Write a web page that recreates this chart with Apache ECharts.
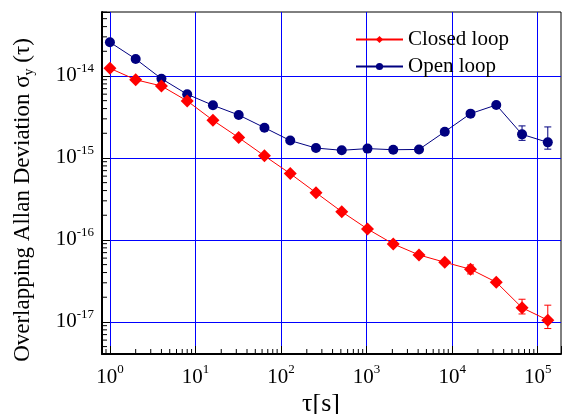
<!DOCTYPE html>
<html>
<head>
<meta charset="utf-8">
<script src="https://cdn.jsdelivr.net/npm/echarts@6/dist/echarts.min.js"></script>
<style>
  html, body { margin: 0; padding: 0; background: #fff; }
  #chart { width: 564px; height: 414px; }
</style>
</head>
<body>
<div id="chart"></div>
<script>
// averaging times tau [s]
const tau = [1, 2, 4, 8, 16, 32, 64, 128, 256, 512, 1024, 2048, 4096, 8192, 16384, 32768, 65536, 131072]

// overlapping Allan deviation
const closedLoop = [1.24e-14, 9.0e-15, 7.55e-15, 4.96e-15, 2.88e-15, 1.77e-15, 1.06e-15, 6.44e-16, 3.77e-16,
  2.21e-16, 1.36e-16, 8.94e-17, 6.56e-17, 5.34e-17, 4.39e-17, 3.05e-17, 1.49e-17, 1.05e-17]
const openLoop = [2.58e-14, 1.61e-14, 9.27e-15, 5.98e-15, 4.39e-15, 3.34e-15, 2.34e-15, 1.63e-15, 1.32e-15,
  1.24e-15, 1.30e-15, 1.26e-15, 1.27e-15, 2.09e-15, 3.47e-15, 4.43e-15, 1.94e-15, 1.55e-15]

// error bars: [tau, low, high]
const closedErr = [[16384, 3.85e-17, 4.95e-17], [65536, 1.25e-17, 1.89e-17], [131072, 8.3e-18, 1.6e-17]]
const openErr = [[16384, 3.25e-15, 3.74e-15], [65536, 1.64e-15, 2.46e-15], [131072, 1.28e-15, 2.39e-15]]

// axis ranges
const xRange = [0.808, 1.87e5]
const yRange = [4.06e-18, 6.03e-14]

// minor tick multipliers inside each decade
const minorSteps = [2, 3, 4, 5, 6, 7, 8, 9]
const xDecades = [-1, 0, 1, 2, 3, 4, 5]
const yDecades = [-18, -17, -16, -15, -14]

const FONT = "'Liberation Serif', 'Times New Roman', serif"

const minorTicks = (decades, range) => {
  const out = []
  decades.forEach(d => minorSteps.forEach(m => {
    const v = m * Math.pow(10, d)
    if (v > range[0] && v < range[1]) out.push(v)
  }))
  return out
}
const xMinor = minorTicks(xDecades, xRange)
const yMinor = minorTicks(yDecades, yRange)

const powLabel = v => {
  const e = Math.log10(v)
  const r = Math.round(e)
  if (Math.abs(e - r) > 1e-6) return ''
  return '{b|10}{s|' + r + '}'
}

const labelRich = {
  b: { fontSize: 21, fontFamily: FONT, color: '#000', lineHeight: 28 },
  s: { fontSize: 13, fontFamily: FONT, color: '#000', verticalAlign: 'top', lineHeight: 13 }
}

const errorBars = color => (params, api) => {
  const x = api.value(0)
  const lo = api.coord([x, api.value(1)])
  const hi = api.coord([x, api.value(2)])
  const w = 3.5
  const style = { stroke: color, lineWidth: 1 }
  return {
    type: 'group',
    children: [
      { type: 'line', shape: { x1: lo[0], y1: lo[1], x2: hi[0], y2: hi[1] }, style },
      { type: 'line', shape: { x1: lo[0] - w, y1: lo[1], x2: lo[0] + w, y2: lo[1] }, style },
      { type: 'line', shape: { x1: hi[0] - w, y1: hi[1], x2: hi[0] + w, y2: hi[1] }, style }
    ]
  }
}

const chart = echarts.init(document.getElementById('chart'))

const option = {
  animation: false,
  grid: {
    left: 102, right: -1, top: 12, bottom: 60,
    show: true, borderColor: '#000', borderWidth: 1, backgroundColor: 'transparent'
  },
  legend: {
    orient: 'vertical',
    left: 350,
    top: 24,
    itemWidth: 47,
    itemHeight: 9,
    itemGap: 6,
    textStyle: { fontSize: 21, fontFamily: FONT, color: '#000', lineHeight: 21 },
    data: ['Closed loop', 'Open loop']
  },
  xAxis: {
    type: 'log',
    logBase: 10,
    min: xRange[0],
    max: xRange[1],
    axisLine: { lineStyle: { color: '#000', width: 2 } },
    axisTick: { inside: true, length: 8, lineStyle: { color: '#000' } },
    axisLabel: { formatter: powLabel, rich: labelRich, margin: 9 },
    splitLine: { show: true, showMinLine: false, showMaxLine: false, lineStyle: { color: '#0000ff', width: 1 } }
  },
  yAxis: {
    type: 'log',
    logBase: 10,
    min: yRange[0],
    max: yRange[1],
    axisLine: { lineStyle: { color: '#000', width: 2 } },
    axisTick: { inside: true, length: 8, lineStyle: { color: '#000' } },
    axisLabel: { formatter: powLabel, rich: labelRich, margin: 8 },
    splitLine: { show: true, showMinLine: false, showMaxLine: false, lineStyle: { color: '#0000ff', width: 1 } }
  },
  graphic: [
    {
      type: 'text',
      x: 23, y: 200,
      rotation: Math.PI / 2,
      style: {
        text: '{a|Overlapping Allan Deviation σ}{sub|y}{a| (τ)}',
        align: 'center',
        verticalAlign: 'middle',
        rich: {
          a: { fontSize: 23, fontFamily: FONT, fill: '#000', lineHeight: 27 },
          sub: { fontSize: 14, fontFamily: FONT, fill: '#000', verticalAlign: 'bottom', lineHeight: 14 }
        }
      }
    },
    {
      type: 'text',
      x: 321, y: 404,
      style: { text: 'τ[s]', fontSize: 26, fontFamily: FONT, fill: '#000', align: 'center', verticalAlign: 'middle' }
    }
  ],
  series: [
    {
      name: 'Open loop',
      type: 'line',
      data: tau.map((t, i) => [t, openLoop[i]]),
      symbol: 'circle',
      symbolSize: 10,
      itemStyle: { color: '#000080' },
      lineStyle: { color: '#000080', width: 1 },
      z: 3
    },
    {
      name: 'Closed loop',
      type: 'line',
      data: tau.map((t, i) => [t, closedLoop[i]]),
      symbol: 'diamond',
      symbolSize: 13,
      itemStyle: { color: '#ff0000' },
      lineStyle: { color: '#ff0000', width: 1 },
      z: 4
    },
    {
      type: 'custom',
      renderItem: errorBars('#000080'),
      data: openErr,
      encode: { x: 0, y: [1, 2] },
      z: 3
    },
    {
      type: 'custom',
      renderItem: errorBars('#ff0000'),
      data: closedErr,
      encode: { x: 0, y: [1, 2] },
      z: 4
    },
    {
      // minor ticks on the x axis
      type: 'custom',
      silent: true,
      data: xMinor,
      renderItem: (params, api) => {
        const p = api.coord([api.value(0), yRange[0]])
        return { type: 'line', shape: { x1: p[0], y1: p[1], x2: p[0], y2: p[1] - 5 }, style: { stroke: '#000', lineWidth: 1 } }
      },
      encode: { x: 0 },
      z: 5
    },
    {
      // minor ticks on the y axis
      type: 'custom',
      silent: true,
      data: yMinor.map(v => [xRange[0], v]),
      renderItem: (params, api) => {
        const p = api.coord([xRange[0], api.value(1)])
        return { type: 'line', shape: { x1: p[0], y1: p[1], x2: p[0] + 5, y2: p[1] }, style: { stroke: '#000', lineWidth: 1 } }
      },
      encode: { x: 0, y: 1 },
      z: 5
    }
  ]
}

chart.setOption(option)
window.addEventListener('resize', () => chart.resize())
</script>
</body>
</html>
